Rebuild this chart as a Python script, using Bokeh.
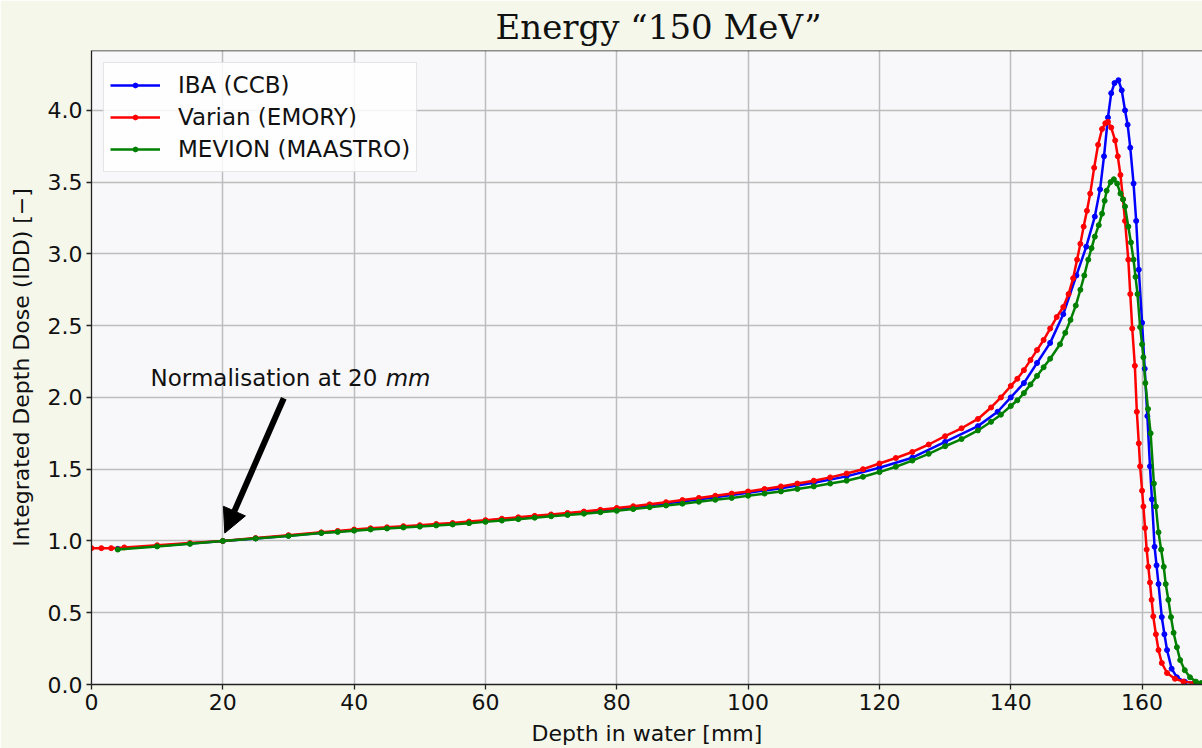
from bokeh.plotting import figure
from bokeh.models import (Legend, LegendItem, Label, Arrow, NormalHead, Span,
                          FixedTicker, Range1d, NumeralTickFormatter)
from bokeh.embed import file_html
from bokeh.resources import INLINE

# ---------------- data ----------------
iba_x = [4, 10, 15, 20, 25, 30, 35, 40, 45, 50, 55, 60, 65, 70, 75, 80, 85, 90, 95, 100,
         105, 110, 115, 120, 125, 130, 135, 138, 140, 142, 144, 146, 148, 150, 151.5, 152.8,
         153.6, 154.2, 154.8, 155.3, 155.8, 156.4, 156.9, 157.4, 157.8, 158.2, 158.7, 159.1,
         159.5, 160.0, 160.4, 160.8, 161.2, 161.5, 161.9, 162.2, 162.5, 163.0, 163.4, 163.8,
         164.5, 165.3, 166.5, 168.0]
iba_y = [0.945, 0.965, 0.982, 1.0, 1.018, 1.037, 1.057, 1.075, 1.09, 1.105, 1.12, 1.14, 1.16,
         1.18, 1.2, 1.222, 1.248, 1.275, 1.305, 1.335, 1.368, 1.405, 1.45, 1.51, 1.58, 1.69,
         1.80, 1.90, 2.00, 2.10, 2.24, 2.38, 2.58, 2.85, 3.05, 3.26, 3.45, 3.68, 3.95, 4.12,
         4.19, 4.21, 4.14, 4.00, 3.90, 3.74, 3.49, 3.23, 2.89, 2.52, 2.20, 1.87, 1.52, 1.29,
         0.96, 0.83, 0.70, 0.47, 0.35, 0.24, 0.11, 0.05, 0.02, 0.01]

varian_x = [0, 1.5, 3, 5, 10, 15, 20, 25, 30, 35, 37.5, 40, 42.5, 45, 47.5, 50, 52.5, 55,
            57.5, 60, 62.5, 65, 67.5, 70, 72.5, 75, 77.5, 80, 82.5, 85, 87.5, 90, 92.5, 95,
            97.5, 100, 102.5, 105, 107.5, 110, 112.5, 115, 117.5, 120, 122.5, 125, 127.5, 130,
            132.5, 135, 137, 138.5, 140, 141, 142, 143, 144, 145, 146, 147, 148, 148.8, 149.5,
            150.1, 150.6, 151.1, 151.6, 152.1, 152.7, 153.3, 153.9, 154.4, 154.8, 155.3, 155.9,
            156.3, 156.7, 157.1, 157.4, 157.9, 158.2, 158.5, 158.9, 159.2, 159.5, 159.7, 160.0,
            160.2, 160.45, 160.7, 160.95, 161.2, 161.45, 161.7, 162.1, 162.5, 163.0, 163.8,
            165.0, 166.3, 168.0]
varian_y = [0.95, 0.95, 0.95, 0.955, 0.97, 0.985, 1.0, 1.02, 1.04, 1.06, 1.07, 1.08, 1.088,
            1.095, 1.103, 1.11, 1.118, 1.125, 1.135, 1.145, 1.155, 1.165, 1.175, 1.185, 1.195,
            1.205, 1.217, 1.23, 1.242, 1.255, 1.27, 1.285, 1.30, 1.315, 1.33, 1.345, 1.362,
            1.38, 1.40, 1.42, 1.443, 1.47, 1.50, 1.54, 1.578, 1.62, 1.672, 1.73, 1.785, 1.85,
            1.93, 2.00, 2.08, 2.13, 2.19, 2.26, 2.33, 2.40, 2.48, 2.56, 2.63, 2.72, 2.83, 2.96,
            3.07, 3.19, 3.30, 3.42, 3.60, 3.76, 3.87, 3.91, 3.92, 3.88, 3.79, 3.68, 3.55, 3.38,
            3.23, 2.96, 2.72, 2.48, 2.22, 1.90, 1.68, 1.52, 1.35, 1.24, 1.09, 0.94, 0.82, 0.71,
            0.59, 0.475, 0.35, 0.24, 0.15, 0.08, 0.04, 0.02, 0.01]

mevion_x = [4, 10, 15, 20, 25, 30, 35, 37.5, 40, 42.5, 45, 47.5, 50, 52.5, 55, 57.5, 60,
            62.5, 65, 67.5, 70, 72.5, 75, 77.5, 80, 82.5, 85, 87.5, 90, 92.5, 95, 97.5, 100,
            102.5, 105, 107.5, 110, 112.5, 115, 117.5, 120, 122.5, 125, 127.5, 130, 132.5, 135,
            137, 138.5, 140, 141, 142, 143, 144, 145, 146, 147.5, 148.3, 149.1, 149.9, 150.6,
            151.2, 151.8, 152.3, 152.8, 153.4, 153.9, 154.3, 154.6, 155.2, 155.7, 156.2, 156.7,
            157.1, 157.4, 157.9, 158.3, 158.7, 159.0, 159.3, 159.7, 160.0, 160.2, 160.5, 160.9,
            161.3, 161.8, 162.1, 162.5, 162.9, 163.3, 163.6, 164.0, 164.4, 164.8, 165.3, 165.8,
            166.5, 167.3, 168.2, 169.0]
mevion_y = [0.94, 0.962, 0.98, 1.0, 1.017, 1.035, 1.055, 1.063, 1.072, 1.08, 1.087, 1.094,
            1.10, 1.108, 1.115, 1.124, 1.133, 1.142, 1.152, 1.162, 1.172, 1.181, 1.19, 1.20,
            1.21, 1.222, 1.235, 1.247, 1.26, 1.273, 1.287, 1.30, 1.315, 1.33, 1.345, 1.362,
            1.38, 1.40, 1.42, 1.447, 1.48, 1.517, 1.56, 1.607, 1.66, 1.71, 1.77, 1.83, 1.88,
            1.94, 1.98, 2.03, 2.09, 2.15, 2.21, 2.27, 2.37, 2.45, 2.54, 2.64, 2.75, 2.85, 2.96,
            3.04, 3.12, 3.20, 3.28, 3.37, 3.44, 3.50, 3.52, 3.49, 3.42, 3.38, 3.33, 3.19, 3.08,
            2.96, 2.84, 2.72, 2.49, 2.37, 2.28, 2.10, 1.92, 1.75, 1.40, 1.24, 1.06, 0.94, 0.82,
            0.70, 0.59, 0.47, 0.36, 0.26, 0.17, 0.10, 0.05, 0.02, 0.01]

series_names = ["IBA (CCB)", "Varian (EMORY)", "MEVION (MAASTRO)"]
series_colors = ["#0000ff", "#ff0000", "#008000"]
x_ticks = [0, 20, 40, 60, 80, 100, 120, 140, 160]
y_ticks = [0.0, 0.5, 1.0, 1.5, 2.0, 2.5, 3.0, 3.5, 4.0]

FONT = "DejaVu Sans"
X_END, Y_END = 169.2, 4.417

p = figure(width=1202, height=748, output_backend="svg", toolbar_location=None,
           x_range=Range1d(0, X_END), y_range=Range1d(0, Y_END),
           min_border_left=91, min_border_right=0, min_border_top=50, min_border_bottom=63,
           title="Energy \u201c150 MeV\u201d")

p.border_fill_color = "#f5f7eb"
p.background_fill_color = "#f8f8fa"
p.outline_line_color = None

p.title.text_font = "DejaVu Serif"
p.title.text_font_size = "34px"
p.title.text_font_style = "normal"
p.title.align = "left"
p.title.text_color = "#111111"
p.title.offset = 404
p.title.standoff = 7

for ax in (p.xaxis[0], p.yaxis[0]):
    ax.major_label_text_font = FONT
    ax.major_label_text_font_size = "22px"
    ax.major_label_text_color = "#111111"
    ax.axis_label_text_font = FONT
    ax.axis_label_text_font_size = "22px"
    ax.axis_label_text_font_style = "normal"
    ax.axis_label_text_color = "#111111"
    ax.axis_line_color = "#222222"
    ax.axis_line_width = 1.3
    ax.major_tick_line_color = "#222222"
    ax.major_tick_line_width = 1.3
    ax.major_tick_out = 5
    ax.major_tick_in = 0
    ax.minor_tick_line_color = None
    ax.major_label_standoff = 4

p.xaxis.ticker = FixedTicker(ticks=x_ticks)
p.yaxis.ticker = FixedTicker(ticks=y_ticks)
p.yaxis.formatter = NumeralTickFormatter(format="0.0")
p.xaxis.axis_label = "Depth in water [mm]"
p.xaxis.axis_label_standoff = 8
p.yaxis.axis_label = "Integrated Depth Dose (IDD) [\u2212]"
p.yaxis.axis_label_standoff = 11

p.grid.grid_line_color = "#bdbdbd"
p.grid.grid_line_width = 1.5

# top spine
p.add_layout(Span(location=Y_END, dimension="width", line_color="#222222", line_width=1.3))

items = []
for name, color, xs, ys in zip(series_names, series_colors,
                               [iba_x, varian_x, mevion_x], [iba_y, varian_y, mevion_y]):
    lr = p.line(xs, ys, line_color=color, line_width=2.5)
    sr = p.scatter(xs, ys, marker="circle", size=5, fill_color=color, line_color=color)
    items.append(LegendItem(label=name, renderers=[lr, sr]))

legend = Legend(items=items, location="top_left")
legend.margin = 12
legend.padding = 6
legend.spacing = 0
legend.glyph_width = 50
legend.glyph_height = 12
legend.label_height = 32
legend.label_standoff = 18
legend.label_text_font = FONT
legend.label_text_font_size = "23px"
legend.label_text_color = "#111111"
legend.background_fill_color = "#ffffff"
legend.background_fill_alpha = 0.85
legend.border_line_color = "#cccccc"
legend.border_line_width = 1.2
p.add_layout(legend, "center")

# annotation
p.add_layout(Label(x=9.0, y=2.136, text="Normalisation at 20", text_font=FONT,
                   text_font_size="23px", text_baseline="alphabetic", text_color="#111111"))
p.add_layout(Label(x=44.8, y=2.136, text="mm", text_font=FONT, text_font_style="italic",
                   text_font_size="23px", text_baseline="alphabetic", text_color="#111111"))
p.add_layout(Arrow(end=NormalHead(size=24, fill_color="black", line_color="black"),
                   x_start=29.28, y_start=1.994, x_end=20.3, y_end=1.055,
                   line_width=6, line_color="black"))

open("out.html", "w").write(file_html(p, INLINE))
